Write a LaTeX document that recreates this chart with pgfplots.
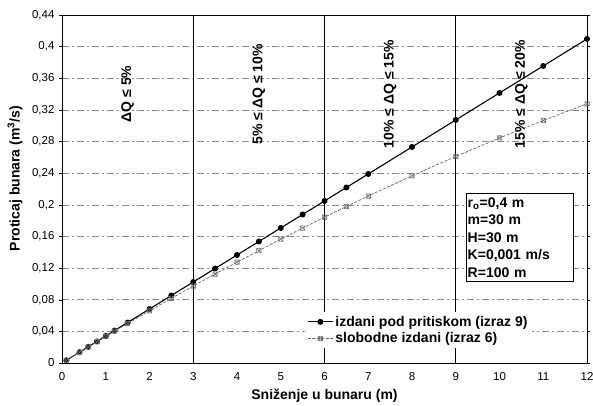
\documentclass[border=0pt]{standalone}
\usepackage{fontspec}
\setmainfont{Liberation Sans}
\usepackage{pgfplots}
\pgfplotsset{compat=1.18}
\newcommand\bfs{\fontsize{14}{17.5}\selectfont\bfseries}
\pgfdeclareplotmark{sqx}{%
 \pgfpathrectangle{\pgfqpoint{-\pgfplotmarksize}{-\pgfplotmarksize}}{\pgfqpoint{2\pgfplotmarksize}{2\pgfplotmarksize}}%
 \pgfpathmoveto{\pgfqpoint{-\pgfplotmarksize}{-\pgfplotmarksize}}\pgfpathlineto{\pgfqpoint{\pgfplotmarksize}{\pgfplotmarksize}}%
 \pgfpathmoveto{\pgfqpoint{-\pgfplotmarksize}{\pgfplotmarksize}}\pgfpathlineto{\pgfqpoint{\pgfplotmarksize}{-\pgfplotmarksize}}%
 \pgfusepathqstroke}
\begin{document}
\begin{tikzpicture}
\path[use as bounding box] (-62pt,-43pt) rectangle (531pt,363pt);
\begin{axis}[
  scale only axis, width=525pt, height=348pt,
  xmin=0, xmax=12, ymin=0, ymax=0.44,
  xtick={0,1,...,12},
  ytick={0,0.04,0.08,0.12,0.16,0.2,0.24,0.28,0.32,0.36,0.4,0.44},
  scaled ticks=false,
  /pgf/number format/fixed,
  /pgf/number format/assume math mode=true,
  /pgf/number format/use comma, /pgf/number format/1000 sep={},
  ticklabel style={font=\fontsize{11.5}{13}\selectfont},
  x tick label style={yshift=-3pt},
  y tick label style={xshift=-1pt},
  tick align=outside,
  x tick style={draw=none},
  y tick style={black, thin},
  major tick length=3pt,
  axis line style={black, line width=0.8pt},
  ymajorgrids,
  major grid style={black!45, dash pattern=on 7pt off 3pt on 2pt off 3pt, line width=0.6pt},
  extra x ticks={3,6,9}, extra x tick labels={},
  extra x tick style={grid=major, major grid style={black, solid, line width=0.8pt}},
  xlabel={Sniženje u bunaru (m)},
  ylabel={Proticaj bunara (m\textsuperscript{3}/s)},
  label style={font=\bfs},
  xlabel style={at={(axis description cs:0.5,-0.074)}, anchor=north, inner sep=0pt},
  ylabel style={at={(axis description cs:-0.0895,0.53)}, anchor=center},
  legend style={at={(axis description cs:0.463,0.147)}, anchor=north west, draw=none, fill=white, font=\bfs, inner sep=2pt, row sep=1pt},
  legend cell align=left,
  legend image code/.code={\draw[mark repeat=2,mark phase=2,#1] plot coordinates {(0cm,0cm) (0.44cm,0cm) (0.88cm,0cm)};},
]
\addplot[black, line width=1.1pt, mark=*, mark size=2.4pt, mark options={solid}] table {
x y
0.1 0.00341
0.4 0.01366
0.6 0.02049
0.8 0.02731
1.0 0.03414
1.2 0.04097
1.5 0.05121
2.0 0.06829
2.5 0.08536
3.0 0.10243
3.5 0.11950
4.0 0.13657
4.5 0.15364
5.0 0.17072
5.5 0.18779
6.0 0.20486
6.5 0.22193
7.0 0.23900
8.0 0.27314
9.0 0.30729
10.0 0.34143
11.0 0.37557
12.0 0.40972
};
\addlegendentry{izdani pod pritiskom (izraz 9)}
\addplot[black!60, line width=0.7pt, dash pattern=on 3pt off 1.5pt, mark=sqx, mark size=2.2pt, mark options={solid, black!55, line width=0.6pt}] table {
x y
0.1 0.00341
0.4 0.01357
0.6 0.02028
0.8 0.02695
1.0 0.03357
1.2 0.04015
1.5 0.04993
2.0 0.06600
2.5 0.08179
3.0 0.09730
3.5 0.11252
4.0 0.12745
4.5 0.14210
5.0 0.15647
5.5 0.17055
6.0 0.18435
6.5 0.19786
7.0 0.21109
8.0 0.23670
9.0 0.26116
10.0 0.28449
11.0 0.30668
12.0 0.32773
};
\addlegendentry{slobodne izdani (izraz 6)}
\node[rotate=90, font=\bfs] at (axis cs:1.5,0.34) {ΔQ ≤ 5\%};
\node[rotate=90, font=\bfs] at (axis cs:4.5,0.34) {5\% ≤ ΔQ ≤ 10\%};
\node[rotate=90, font=\bfs] at (axis cs:7.5,0.34) {10\% ≤ ΔQ ≤ 15\%};
\node[rotate=90, font=\bfs] at (axis cs:10.5,0.34) {15\% ≤ ΔQ ≤ 20\%};
\node[draw=black, line width=0.8pt, fill=white, anchor=north west, align=left, font=\bfs, inner xsep=1.5pt, inner ysep=4pt, text width=104pt] at (axis cs:9.23,0.215)
  {r\textsubscript{o}=0,4 m\\ m=30 m\\ H=30 m\\ K=0,001 m/s\\ R=100 m};
\end{axis}
\end{tikzpicture}
\end{document}
